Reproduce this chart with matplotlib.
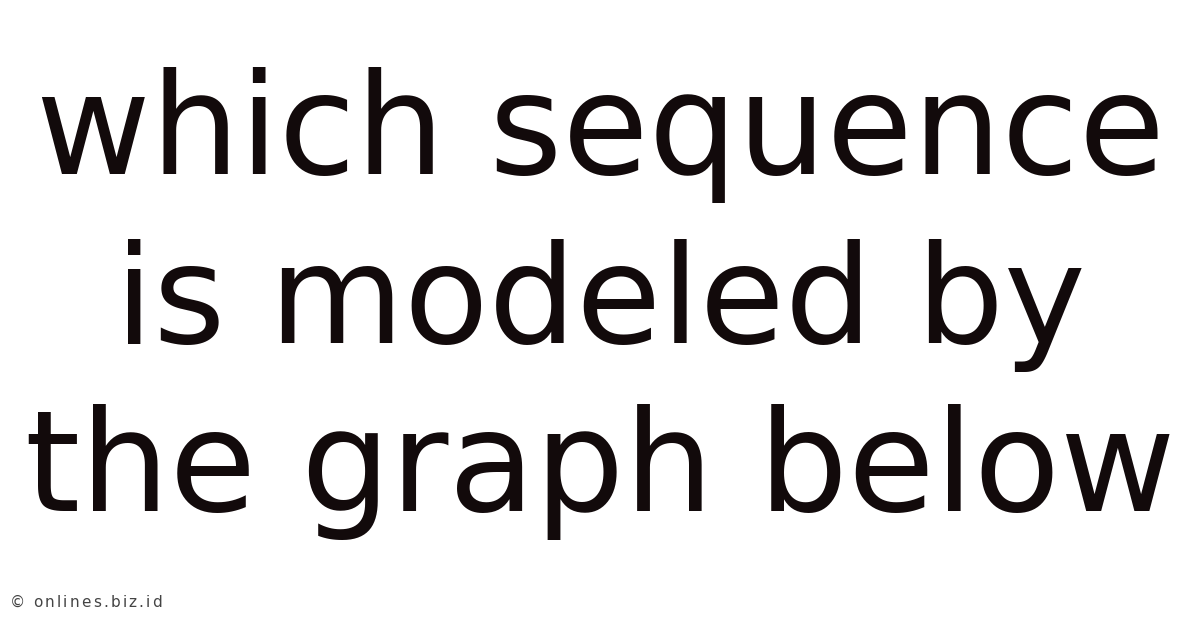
import matplotlib
matplotlib.use("Agg")
import matplotlib.pyplot as plt

lines = ["which sequence", "is modeled by", "the graph below"]
baselines = [174, 343, 511]  # pixel rows from top
sizes = [101, 99.5, 101.5]
watermark = "\u00a9 onlines.biz.id"

W, H = 1200, 628
fig = plt.figure(figsize=(W / 100, H / 100), dpi=100)
fig.patch.set_facecolor("white")

for txt, yb, fs in zip(lines, baselines, sizes):
    fig.text(0.5, 1 - yb / H, txt, ha="center", va="baseline",
             fontsize=fs, color="#120a0b", family="DejaVu Sans")

# watermark with a bit of letter spacing
r = fig.canvas.get_renderer()
x = 10
for ch in watermark:
    t = fig.text(x / W, 1 - 607 / H, ch, ha="left", va="baseline",
                 fontsize=11, color="#444444", family="DejaVu Sans")
    if ch == " ":
        x += 3.5 + 2.2
    else:
        x += t.get_window_extent(renderer=r).width + 2.2

fig.savefig("out.png", dpi=100)
